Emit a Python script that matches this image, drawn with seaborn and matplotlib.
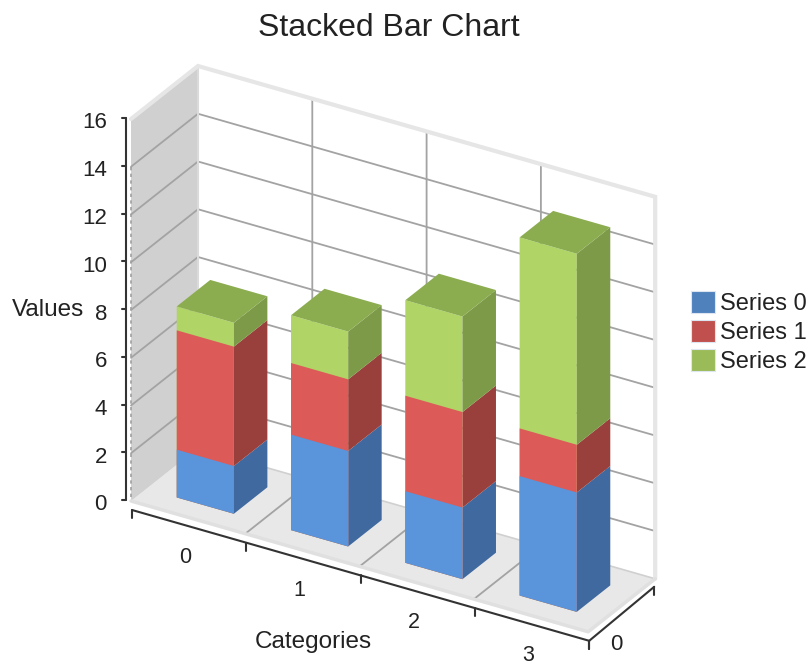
import numpy as np
import pandas as pd
import matplotlib
matplotlib.use("Agg")
import matplotlib.pyplot as plt
from matplotlib.patches import Patch, Polygon
from matplotlib.transforms import Affine2D
import seaborn as sns

# chart data
categories = ["0", "1", "2", "3"]
series_names = ["Series 0", "Series 1", "Series 2"]
series_0 = [2, 4, 3, 5]
series_1 = [5, 3, 4, 2]
series_2 = [1, 2, 4, 8]
y_ticks = [0, 2, 4, 6, 8, 10, 12, 14, 16]

# colours: front, side, top
blue = ["#5A94DB", "#3F699F", "#4F81BD"]
red = ["#DC5A58", "#99403C", "#B9504C"]
green = ["#B0D465", "#7C9A47", "#8BAD50"]
legend_colors = ["#4F81BD", "#C0504D", "#9BBB59"]

# oblique projection, in image pixels
X0, Y0 = 131, 501
CX, CY = 114.3, 32.7
VY = 23.875
DX, DY = 67, 53
BAR_W = 0.5
BAR_D0, BAR_D1 = 0.25, 0.75
BAR_SHIFT = (0.4, 1.5)


def proj(c, v, d=0):
    return (X0 + CX * c + DX * d, Y0 + CY * c - VY * v - DY * d)


def bar_proj(c, v, d):
    x, y = proj(c, v, d)
    return (x + BAR_SHIFT[0], y + BAR_SHIFT[1])


sns.set_style("white")
plt.rcParams["font.family"] = ["Liberation Sans", "DejaVu Sans"]
fig = plt.figure(figsize=(8.12, 6.65), dpi=100)
ax = fig.add_axes([0, 0, 1, 1])

n = len(categories)
top_v = y_ticks[-1]

# floor and side wall
ax.add_patch(Polygon([proj(0, 0, 0), proj(n, 0, 0), proj(n, 0, 1), proj(0, 0, 1)],
                     fc="#E8E8E8", ec="none", zorder=1))
ax.add_patch(Polygon([proj(0, 0, 0), proj(0, 0, 1), proj(0, top_v, 1), proj(0, top_v, 0)],
                     fc="#D0D0D0", ec="none", zorder=1))

# grid on walls and floor
for v in y_ticks[1:-1]:
    pts = [proj(0, v, 0), proj(0, v, 1), proj(n, v, 1)]
    ax.plot(*zip(*pts), color="#A3A3A3", lw=1.3, zorder=2)
for c in range(1, n):
    pts = [proj(c, 0, 0), proj(c, 0, 1), proj(c, top_v, 1)]
    ax.plot(*zip(*pts), color="#A3A3A3", lw=1.3, zorder=2)
ax.plot(*zip(proj(0, 0, 1), proj(n, 0, 1)), color="#D0D0D0", lw=1.2, zorder=2)
ax.plot(*zip(proj(0, top_v - 2, 0), proj(0, 0, 0)), color="#A0A0A0", lw=1.2, ls=(0, (2, 2)), zorder=2)
ax.plot(*zip(proj(n, top_v - 1, 1), proj(n, 0, 1)), color="#A0A0A0", lw=1.2, ls=(0, (2, 2)), zorder=2)

# light wall edges
ax.plot(*zip(proj(0, top_v, 0), proj(0, top_v, 1), proj(n, top_v, 1), proj(n, 0, 1)),
        color="#E6E6E6", lw=3, zorder=3, solid_joinstyle="miter")
ax.plot(*zip(proj(0, top_v, 1), proj(0, 0, 1)), color="#DADADA", lw=1.5, zorder=2)
ax.plot(*zip(proj(0, 0, 0), proj(n, 0, 0), proj(n, 0, 1)), color="#E0E0E0", lw=2.5, zorder=3)

# front faces of the bars, tallest layer first so the stack shows
df = pd.DataFrame({"cat": categories, "s0": series_0, "s1": series_1, "s2": series_2})
layers = [(df.s0 + df.s1 + df.s2, green), (df.s0 + df.s1, red), (df.s0, blue)]
shear = Affine2D.from_values(CX, CY, 0, -VY,
                             X0 + CX * 0.5 + DX * BAR_D0 + BAR_SHIFT[0],
                             Y0 + CY * 0.5 - DY * BAR_D0 + BAR_SHIFT[1])
for i, (heights, cols) in enumerate(layers):
    sns.barplot(x=df.cat, y=heights, color=cols[0], width=BAR_W, saturation=1, ax=ax,
                zorder=5 + i * 0.1, order=categories)
    for bar in ax.containers[-1]:
        bar.set_transform(shear + ax.transData)
        bar.set_edgecolor("none")

# side and top faces
for i in range(n):
    c0, c1 = i + 0.5 - BAR_W / 2, i + 0.5 + BAR_W / 2
    bottom = 0
    for vals, cols in zip([series_0, series_1, series_2], [blue, red, green]):
        top = bottom + vals[i]
        ax.add_patch(Polygon([bar_proj(c1, bottom, BAR_D0), bar_proj(c1, bottom, BAR_D1),
                              bar_proj(c1, top, BAR_D1), bar_proj(c1, top, BAR_D0)],
                             fc=cols[1], ec="none", zorder=5))
        bottom = top
    ax.add_patch(Polygon([bar_proj(c0, bottom, BAR_D0), bar_proj(c1, bottom, BAR_D0),
                          bar_proj(c1, bottom, BAR_D1), bar_proj(c0, bottom, BAR_D1)],
                         fc=green[2], ec="none", zorder=5))

# value axis
axis_color = "#333333"
ax.plot([126, 126], [Y0 - 1, Y0 - 1 - VY * top_v], color=axis_color, lw=1.5, zorder=6)
for v in y_ticks:
    yy = Y0 - 1 - VY * v
    ax.plot([122, 126], [yy, yy], color=axis_color, lw=1.5, zorder=6)
    ax.text(107, yy + 5, str(v), ha="right", va="center", fontsize=16, color="#222222")

# category axis, a little in front of the floor
off = (1, 9)
pts = [proj(c, 0, 0) for c in range(n + 1)]
ax.plot([p[0] + off[0] for p in pts], [p[1] + off[1] for p in pts], color=axis_color, lw=1.5, zorder=6)
for p in pts:
    ax.plot([p[0] + off[0]] * 2, [p[1] + off[1], p[1] + off[1] + 8], color=axis_color, lw=1.5, zorder=6)
for c, lab in enumerate(categories):
    p = proj(c + 0.5, 0, 0)
    ax.text(p[0] - 3, p[1] + 40, lab, ha="center", va="center", fontsize=15.5, color="#222222")

# depth axis
d0 = proj(n, 0, 0)
d1 = proj(n, 0, 1)
ax.plot([d0[0] + off[0], d1[0] - 1], [d0[1] + off[1], d1[1] + 8], color=axis_color, lw=1.5, zorder=6)
ax.plot([d0[0] + off[0]] * 2, [d0[1] + off[1], d0[1] + off[1] + 8], color=axis_color, lw=1.5, zorder=6)
ax.plot([d1[0] - 1] * 2, [d1[1] + 8, d1[1] + 16], color=axis_color, lw=1.5, zorder=6)
ax.text(616, 644, "0", ha="center", va="center", fontsize=16, color="#222222")

# titles
ax.text(389, 28, "Stacked Bar Chart", ha="center", va="center", fontsize=23, color="#222222")
ax.text(313, 642, "Categories", ha="center", va="center", fontsize=17.5, color="#222222")
ax.text(48, 310, "Values", ha="center", va="center", fontsize=17.5, color="#222222")

# legend
handles = [Patch(fc=col, ec="#DDE6F0", lw=0.8, label=name) for col, name in zip(legend_colors, series_names)]
ax.legend(handles=handles, loc="center left", bbox_to_anchor=(691, 332), bbox_transform=ax.transData,
          frameon=False, fontsize=17, handlelength=1.02, handleheight=1.02, handletextpad=0.2,
          labelspacing=0.22, borderpad=0, borderaxespad=0, labelcolor="#222222")

ax.set_xlim(0, 812)
ax.set_ylim(665, 0)
ax.axis("off")
fig.savefig("out.png", dpi=100)
